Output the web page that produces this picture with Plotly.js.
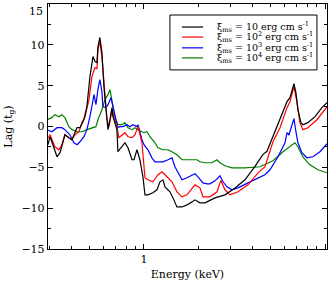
<!DOCTYPE html>
<html>
<head>
<meta charset="utf-8">
<script src="https://cdn.plot.ly/plotly-3.0.1.min.js"></script>
<style>html,body{margin:0;padding:0;background:#fff}#chart{width:332px;height:289px}</style>
</head>
<body>
<div id="chart"></div>
<script>
// Energy (keV) and lag (t_g)
var energyBlack = [0.295,0.303,0.314,0.331,0.344,0.366,0.385,0.400,0.427,0.443,0.466,0.484,0.503,0.523,0.536,0.550,0.557,0.571,0.586,0.601,0.625,0.633,0.649,0.666,0.674,0.709,0.718,0.756,0.785,0.816,0.859,0.881,0.915,0.950,0.987,1.013,1.052,1.121,1.180,1.226,1.274,1.306,1.392,1.446,1.521,1.622,1.728,1.842,1.913,2.039,2.173,2.467,2.803,3.182,3.614,4.105,4.544,4.781,5.161,5.641,6.166,6.404,6.568,6.736,6.908,7.085,7.359,7.547,8.041,8.803,9.617,10.26];
var lagBlack = [-2.23,-1.25,-2.23,-3.71,-3.21,-1.01,-1.37,-1.62,-0.15,-0.15,0.83,2.43,6.11,8.56,7.95,7.83,9.79,10.90,9.06,4.88,0.83,-0.39,0.83,2.31,1.20,-0.39,-3.09,-2.48,-1.99,-2.60,-4.07,-4.07,-2.85,-4.07,-6.16,-8.37,-8.37,-8.12,-7.75,-6.77,-6.53,-7.39,-8.0,-8.74,-9.85,-9.85,-9.60,-9.23,-8.98,-9.35,-9.35,-8.74,-8.37,-7.52,-6.53,-4.88,-3.41,-3.04,-1.25,0.83,3.04,3.53,4.27,5.25,4.15,2.06,0.47,0.22,0.47,1.20,2.31,2.92];

var energyRed = [0.291,0.303,0.322,0.339,0.352,0.366,0.385,0.400,0.416,0.438,0.454,0.472,0.497,0.516,0.536,0.550,0.557,0.571,0.586,0.609,0.625,0.641,0.657,0.666,0.683,0.709,0.727,0.756,0.785,0.816,0.859,0.892,0.927,0.975,0.987,1.013,1.052,1.121,1.195,1.257,1.306,1.358,1.428,1.521,1.622,1.728,1.842,1.913,2.039,2.118,2.316,2.531,2.660,2.803,2.986,3.306,3.755,4.266,4.660,5.161,5.641,6.166,6.404,6.736,6.996,7.267,7.547,8.041,9.028,10.26];
var lagRed = [-1.62,-1.01,-2.48,-2.85,-2.23,-1.01,-1.37,-1.62,-1.01,-0.64,0.47,1.20,3.29,6.11,7.21,7.09,9.42,10.40,8.56,4.15,0.83,-0.02,1.20,2.06,1.08,-0.02,-1.37,-1.01,-0.76,-1.25,-1.37,-1.01,-0.02,-1.99,-3.21,-6.28,-6.53,-6.77,-5.91,-5.55,-5.91,-6.28,-6.77,-8.0,-8.61,-8.37,-7.51,-7.15,-7.51,-8.61,-8.61,-8.0,-6.6,-7.75,-8.37,-8.0,-7.14,-5.67,-4.93,-1.87,-0.15,2.31,3.04,4.88,3.04,0.47,-0.39,-0.15,0.83,2.43];

var energyBlue = [0.291,0.310,0.331,0.352,0.366,0.390,0.410,0.427,0.443,0.466,0.484,0.503,0.530,0.543,0.557,0.571,0.586,0.593,0.617,0.633,0.657,0.674,0.700,0.718,0.737,0.765,0.805,0.837,0.869,0.915,0.927,0.975,1.000,1.052,1.107,1.150,1.226,1.274,1.358,1.428,1.483,1.541,1.622,1.728,1.842,1.913,1.987,2.118,2.229,2.316,2.467,2.630,2.732,2.876,3.064,3.306,3.755,4.266,4.660,4.966,5.500,6.012,6.166,6.324,6.568,6.736,6.908,7.085,7.453,7.940,8.584,9.377,10.26];
var lagBlue = [-0.39,-0.64,-0.15,-0.15,-0.39,-1.01,-1.99,-2.23,-1.87,-1.25,-0.39,1.20,3.90,2.67,4.52,5.74,4.27,2.43,2.31,2.67,3.53,2.31,0.83,-0.15,-0.02,-0.02,0.22,-0.02,0.22,-0.02,0.22,-1.62,-2.23,-2.85,-3.84,-4.32,-4.32,-4.32,-4.07,-3.83,-4.93,-5.55,-6.53,-6.28,-5.91,-5.79,-6.16,-6.90,-7.02,-7.02,-6.65,-6.04,-6.77,-7.39,-7.75,-7.51,-6.90,-6.28,-5.91,-5.30,-3.71,-1.99,-0.76,-1.01,0.22,0.96,-0.64,-1.99,-3.21,-3.83,-3.71,-3.09,-2.11];

var energyGreen = [0.291,0.310,0.322,0.339,0.352,0.366,0.385,0.400,0.427,0.454,0.484,0.516,0.543,0.557,0.586,0.609,0.633,0.649,0.666,0.674,0.691,0.718,0.756,0.785,0.816,0.859,0.892,0.927,0.975,1.000,1.039,1.079,1.150,1.195,1.274,1.358,1.428,1.521,1.622,1.796,1.962,2.039,2.173,2.375,2.531,2.630,2.803,3.064,3.614,4.375,5.161,5.862,6.404,6.822,7.085,7.547,8.247,9.143,10.26];
var lagGreen = [0.83,1.08,1.45,1.20,1.45,1.08,-0.02,-0.39,-0.64,-0.64,-0.39,-0.15,-0.02,0.83,2.06,3.29,3.90,4.52,3.04,2.31,1.20,0.22,0.22,0.47,-0.15,-0.39,-0.15,-0.39,-0.64,-0.76,-0.64,-1.25,-1.99,-2.60,-2.85,-2.85,-3.09,-3.46,-4.07,-4.07,-4.07,-4.32,-4.44,-4.44,-4.07,-4.44,-4.81,-5.06,-5.06,-4.93,-4.20,-3.09,-2.48,-1.99,-2.48,-3.71,-4.69,-5.30,-5.67];

var seriesNames = [
  "ξ<sub>ms</sub> = 10 erg cm s<sup>-1</sup>",
  "ξ<sub>ms</sub> = 10<sup>2</sup> erg cm s<sup>-1</sup>",
  "ξ<sub>ms</sub> = 10<sup>3</sup> erg cm s<sup>-1</sup>",
  "ξ<sub>ms</sub> = 10<sup>4</sup> erg cm s<sup>-1</sup>"
];
var seriesColors = ["#000000", "#ff0000", "#0000ff", "#008000"];
var xTickVals = [1, 10];
var xTickText = ["1", "10"];
var yTickVals = [-15, -10, -5, 0, 5, 10];
var yTopTick = 15;

var xs = [energyBlack, energyRed, energyBlue, energyGreen];
var ys = [lagBlack, lagRed, lagBlue, lagGreen];
// draw green first so black is on top
var order = [3, 2, 1, 0];
var traces = order.map(function (i) {
  return {x: xs[i], y: ys[i], type: 'scatter', mode: 'lines', name: seriesNames[i],
          line: {color: seriesColors[i], width: 1.2}, showlegend: false, hoverinfo: 'skip'};
});

var font = {family: 'DejaVu Serif', size: 11, color: '#000'};
var shapes = [{type: 'rect', xref: 'paper', yref: 'paper', x0: 0.437, x1: 0.964, y0: 0.731, y1: 0.955,
               line: {color: '#000', width: 1}, fillcolor: '#fff', layer: 'above'}];
var annotations = [];
var rowY = [0.906, 0.865, 0.821, 0.780];
for (var i = 0; i < 4; i++) {
  shapes.push({type: 'line', xref: 'paper', yref: 'paper', x0: 0.480, x1: 0.556, y0: rowY[i], y1: rowY[i],
               line: {color: seriesColors[i], width: 1.2}, layer: 'above'});
  annotations.push({xref: 'paper', yref: 'paper', x: 0.599, y: rowY[i], xanchor: 'left', yanchor: 'middle',
                    text: seriesNames[i], showarrow: false, font: {family: 'DejaVu Serif', size: 9.5, color: '#000'}});
}
// top y tick label, shifted down as in the reference (it would fall outside the picture)
annotations.push({xref: 'paper', yref: 'y', x: 0, y: yTopTick, xanchor: 'right', yanchor: 'top',
                  xshift: -3, yshift: 1, text: String(yTopTick), showarrow: false, font: font});

var layout = {
  width: 332, height: 289,
  margin: {l: 48, r: 5, t: 4, b: 40},
  paper_bgcolor: '#fff', plot_bgcolor: '#fff',
  font: font,
  showlegend: false,
  xaxis: {
    type: 'log', range: [-0.530, 1.011],
    tickmode: 'array', tickvals: xTickVals, ticktext: xTickText,
    ticks: 'inside', ticklen: 5, tickwidth: 1, tickcolor: '#000',
    minor: {dtick: 'D1', ticks: 'inside', ticklen: 3, tickwidth: 1, tickcolor: '#000', showgrid: false},
    showline: true, linecolor: '#000', linewidth: 1.2, mirror: 'ticks',
    showgrid: false, zeroline: false,
    tickfont: font,
    title: {text: 'Energy (keV)', font: font, standoff: 4}
  },
  yaxis: {
    range: [-15, 15], tickmode: 'array', tickvals: yTickVals.concat([yTopTick]),
    ticktext: yTickVals.map(function (v) { return v < 0 ? '\u2212' + Math.abs(v) : String(v); }).concat(['']),
    ticks: 'inside', ticklen: 5, tickwidth: 1, tickcolor: '#000',
    minor: {tick0: 0, dtick: 2.5, ticks: 'inside', ticklen: 3, tickwidth: 1, tickcolor: '#000', showgrid: false},
    showline: true, linecolor: '#000', linewidth: 1.2, mirror: 'ticks',
    showgrid: false, zeroline: false,
    tickfont: font,
    title: {text: 'Lag (t<sub>g</sub>)', font: font, standoff: 6}
  },
  shapes: shapes,
  annotations: annotations
};

Plotly.newPlot('chart', traces, layout, {staticPlot: true, displayModeBar: false});
</script>
</body>
</html>
